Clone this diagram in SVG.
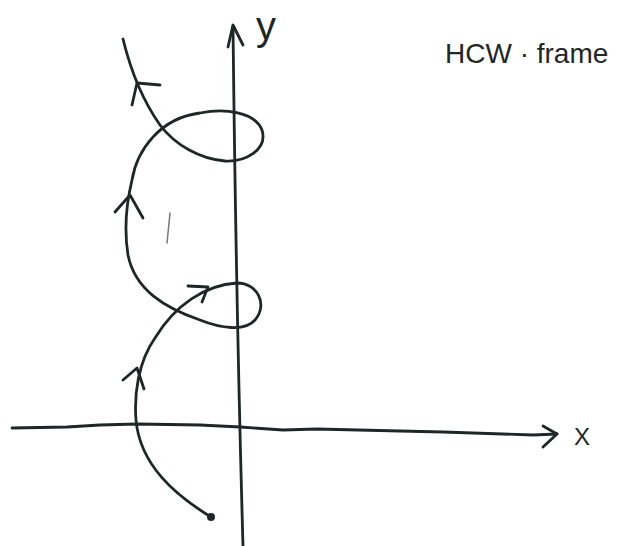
<svg xmlns="http://www.w3.org/2000/svg" width="621" height="546" viewBox="0 0 621 546">
<style>
.ink{fill:none;stroke:#1f2626;stroke-width:2.8;stroke-linecap:round;stroke-linejoin:round}
.lbl{font-family:"Liberation Sans",Arial,sans-serif;fill:#1f2626}
</style>
<rect width="621" height="546" fill="#ffffff"/>
<g id="axes">
<path class="ink" d="M12,428 L67,427 L100,425 L137,424 L200,425 L240,427 L283,430 L317,429 L400,431 L443,432 L533,435 L557,434"/>
<path class="ink" d="M543,426 L557,434 L543,447"/>
<path class="ink" d="M233,26 Q236,300 243,546"/>
<path class="ink" d="M228,47 L233,25 L243,45"/>
</g>
<g id="trajectory">
<path class="ink" d="M211,517 C175,495 140,465 136,420 C134,395 138,362 155,338 C175,305 205,285 237,283 C258,283 268,305 255,320 C245,332 220,328 200,320 C165,308 135,290 128,255 C124,230 126,205 132,180 C137,150 160,118 200,113 C225,108 255,112 262,130 C268,150 245,162 225,161 C200,159 175,145 160,125 C148,108 133,80 123,39"/>
<circle cx="211" cy="517" r="4" fill="#1f2626"/>
<path class="ink" d="M160,85 L137,83 L132,105"/>
<path class="ink" d="M115,212 L130,195 L143,218"/>
<path class="ink" d="M188,286 L208,287 L202,302"/>
<path class="ink" d="M123,380 L137,368 L144,389"/>
<path d="M170,213 L167,243" fill="none" stroke="#777" stroke-width="1.5" stroke-linecap="round"/>
</g>
<g id="labels">
<text class="lbl" x="256" y="40" font-size="40">y</text>
<text class="lbl" x="574" y="445" font-size="24">X</text>
<text class="lbl" x="445" y="63" font-size="28">HCW · frame</text>
</g>
</svg>
